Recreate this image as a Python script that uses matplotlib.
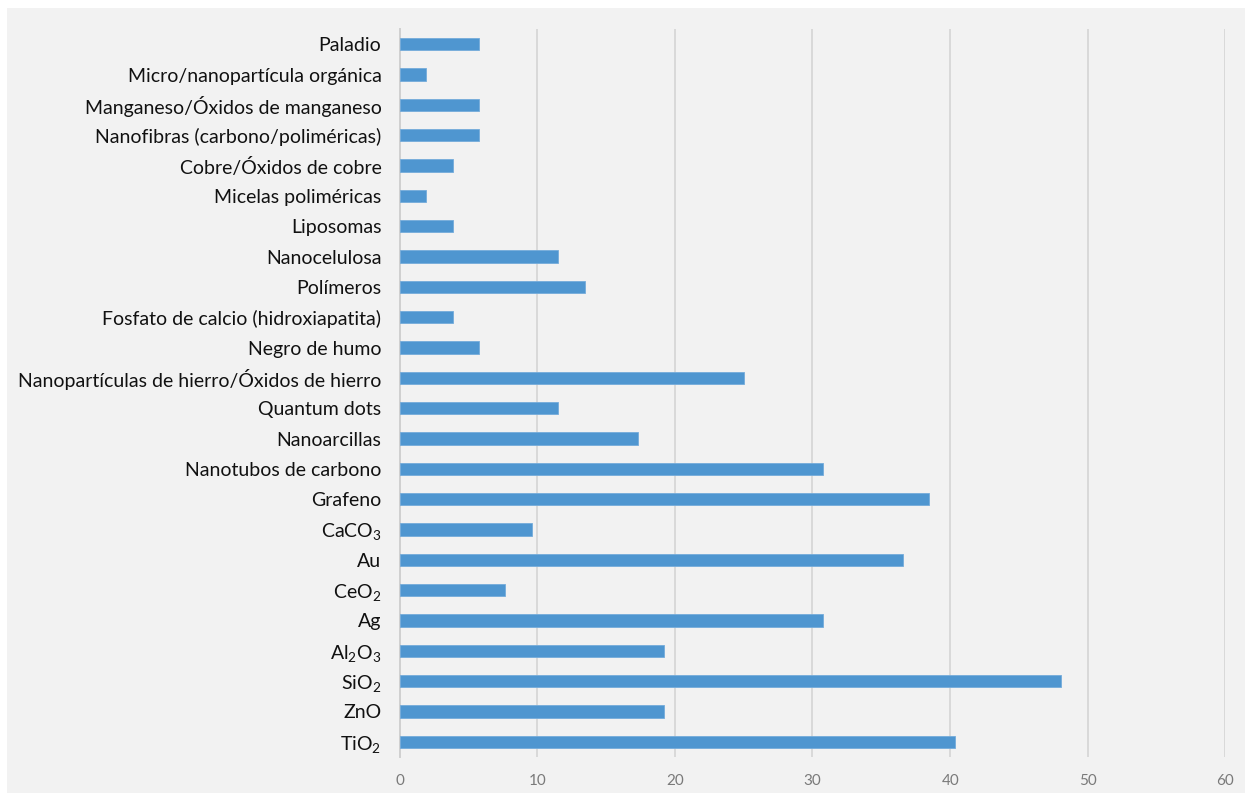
import matplotlib
matplotlib.use("Agg")
import matplotlib.pyplot as plt
from matplotlib.patches import Rectangle

plt.rcParams['font.family'] = ['Lato', 'DejaVu Sans']
plt.rcParams['mathtext.fontset'] = 'custom'
plt.rcParams['mathtext.rm'] = 'Lato'
plt.rcParams['mathtext.it'] = 'Lato'

# Categories listed bottom to top
materials = [
    r"$\mathregular{TiO_2}$",
    "ZnO",
    r"$\mathregular{SiO_2}$",
    r"$\mathregular{Al_2O_3}$",
    "Ag",
    r"$\mathregular{CeO_2}$",
    "Au",
    r"$\mathregular{CaCO_3}$",
    "Grafeno",
    "Nanotubos de carbono",
    "Nanoarcillas",
    "Quantum dots",
    "Nanopartículas de hierro/Óxidos de hierro",
    "Negro de humo",
    "Fosfato de calcio (hidroxiapatita)",
    "Polímeros",
    "Nanocelulosa",
    "Liposomas",
    "Micelas poliméricas",
    "Cobre/Óxidos de cobre",
    "Nanofibras (carbono/poliméricas)",
    "Manganeso/Óxidos de manganeso",
    "Micro/nanopartícula orgánica",
    "Paladio",
]

values = [
    40.38, 19.23, 48.08, 19.23, 30.77, 7.69, 36.54, 9.62,
    38.46, 30.77, 17.31, 11.54, 25.00, 5.77, 3.85, 13.46,
    11.54, 3.85, 1.92, 3.85, 5.77, 5.77, 1.92, 5.77,
]

x_ticks = [0, 10, 20, 30, 40, 50, 60]

W, H = 1245, 794
fig = plt.figure(figsize=(W / 100, H / 100), dpi=100, facecolor="white")

# grey panel behind the chart
fig.patches.append(Rectangle((7 / W, 1 / H), (W - 7) / W, (H - 9) / H,
                             transform=fig.transFigure, facecolor="#f2f2f2",
                             edgecolor="none", zorder=-10))

left, right = 399.5 / W, 1225.5 / W
bottom, top = 1 - 757 / H, 1 - 29 / H
ax = fig.add_axes([left, bottom, right - left, top - bottom])
ax.set_facecolor("none")
ax.set_zorder(1)

ypos = list(range(len(materials)))
ax.barh(ypos, values, height=0.4, color="#4f96d0", edgecolor="#74acdb",
        linewidth=0.6, zorder=3)

ax.set_xlim(0, 60)
ax.set_ylim(-0.5, len(materials) - 0.5)
ax.set_xticks(x_ticks)
ax.set_xticklabels([str(t) for t in x_ticks])
ax.set_yticks(ypos)
ax.set_yticklabels(materials)

ax.grid(axis="x", color="#d9d9d9", linewidth=1.4, zorder=0)
ax.grid(axis="y", visible=False)
for side in ("top", "right", "bottom"):
    ax.spines[side].set_visible(False)
ax.spines["left"].set_color("#d0d0d0")
ax.spines["left"].set_linewidth(1.4)

ax.tick_params(axis="x", length=0, pad=12, labelsize=11, labelcolor="#7a7a7a")
ax.tick_params(axis="y", length=0, pad=13, labelsize=14, labelcolor="#111111")

fig.savefig("out.png", dpi=100, facecolor=fig.get_facecolor())
